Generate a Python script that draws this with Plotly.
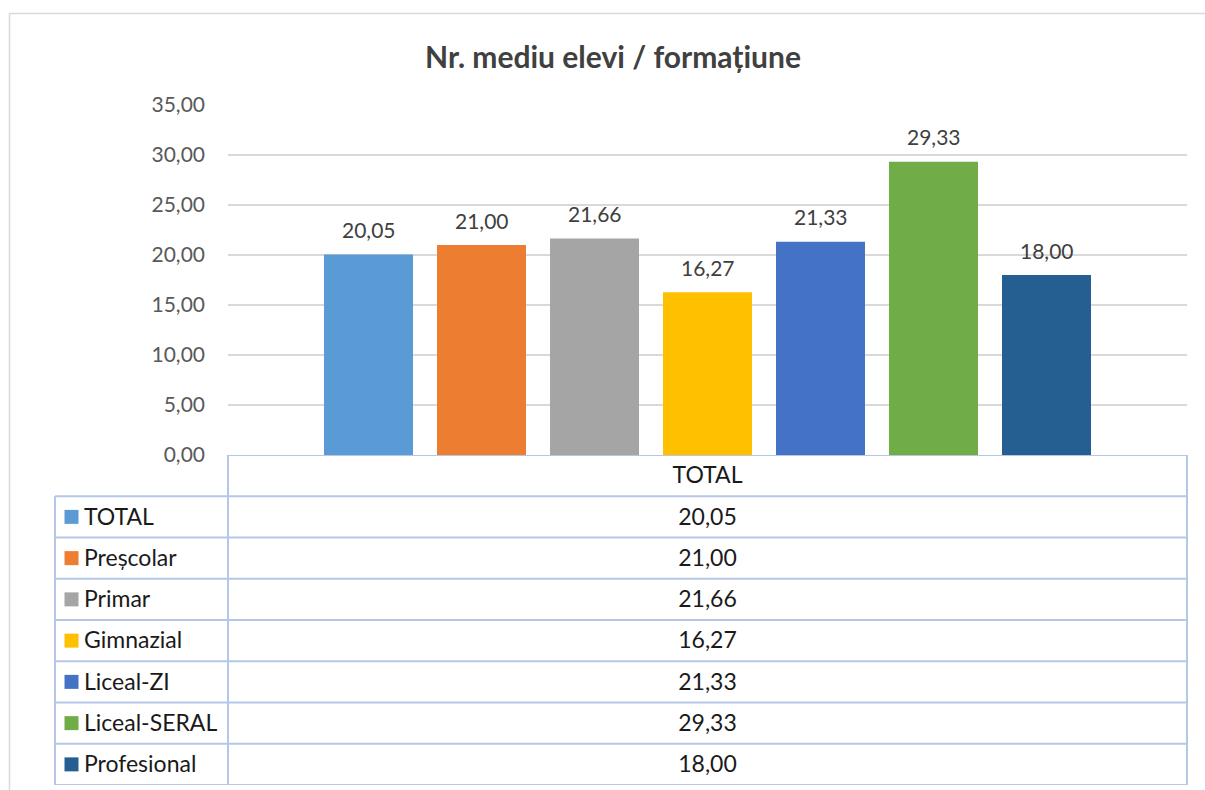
import plotly.graph_objects as go

# ---------------- data ----------------
title_text = "Nr. mediu elevi / formațiune"
category = "TOTAL"
series = ["TOTAL", "Preșcolar", "Primar", "Gimnazial", "Liceal-ZI", "Liceal-SERAL", "Profesional"]
values = [20.05, 21.00, 21.66, 16.27, 21.33, 29.33, 18.00]
colors = ["#5B9BD5", "#ED7D31", "#A5A5A5", "#FFC000", "#4472C4", "#70AD47", "#255E91"]
y_ticks = [0, 5, 10, 15, 20, 25, 30, 35]

# ---------------- layout helpers ----------------
W, H = 1205, 790
FONT = "Lato"


def px(x):
    return x / W


def py(y):
    return 1 - y / H


def fmt(v):
    return f"{v:.2f}".replace(".", ",")


plot_l, plot_r, plot_t, plot_b = 228, 1187, 105, 455
tab_l, tab_split, tab_r, tab_b = 55, 228, 1187, 785
step_px = 113.0
n = len(series)
idx = list(range(n))
mid = (n - 1) / 2
half_units = (plot_r - plot_l) / step_px / 2

fig = go.Figure()

# bars
fig.add_trace(go.Bar(
    x=idx, y=values, marker=dict(color=colors, line=dict(width=0)),
    width=89 / step_px, showlegend=False,
    customdata=series, hovertemplate="%{customdata}: %{y:.2f}<extra></extra>",
))

# data labels
annotations = []
for i, v in zip(idx, values):
    annotations.append(dict(
        x=i, y=v, xref="x", yref="y", text=fmt(v), showarrow=False,
        yanchor="middle", yshift=25,
        font=dict(family=FONT, size=21, color="#404040"),
    ))

# ---------------- data table ----------------
rows = n + 1
span = tab_r - tab_l
val_x = ((plot_l + plot_r) / 2 - tab_l) / span
key_x = (71.5 - tab_l) / span
lbl_x = (84 - tab_l) / span
text_nudge = 0.05  # centre text optically within each row
table_font = dict(family=FONT, size=23, color="#1A1A1A")

fig.add_trace(go.Scatter(
    x=[val_x], y=[0.5 + text_nudge], mode="text", text=[category], textfont=table_font,
    xaxis="x2", yaxis="y2", showlegend=False, hoverinfo="skip", cliponaxis=False,
))
fig.add_trace(go.Scatter(
    x=[val_x] * n, y=[i + 1.5 + text_nudge for i in idx], mode="text",
    text=[fmt(v) for v in values], textfont=table_font,
    xaxis="x2", yaxis="y2", showlegend=False, hoverinfo="skip", cliponaxis=False,
))
fig.add_trace(go.Scatter(
    x=[key_x] * n, y=[i + 1.5 for i in idx], mode="markers",
    marker=dict(symbol="square", size=14, color=colors, line=dict(width=0)),
    xaxis="x2", yaxis="y2", showlegend=False, hoverinfo="skip", cliponaxis=False,
))
fig.add_trace(go.Scatter(
    x=[lbl_x] * n, y=[i + 1.5 + text_nudge for i in idx], mode="text",
    text=series, textposition="middle right", textfont=table_font,
    xaxis="x2", yaxis="y2", showlegend=False, hoverinfo="skip", cliponaxis=False,
))

line_col = "#B4C7E7"
shapes = []
shapes.append(dict(type="line", xref="paper", yref="y2", x0=px(tab_split), x1=px(tab_r),
                   y0=0, y1=0, line=dict(color=line_col, width=2), layer="above"))
for r in range(1, rows + 1):
    shapes.append(dict(type="line", xref="paper", yref="y2", x0=px(tab_l), x1=px(tab_r),
                       y0=r, y1=r, line=dict(color=line_col, width=2), layer="above"))
shapes.append(dict(type="line", xref="paper", yref="y2", x0=px(tab_l), x1=px(tab_l),
                   y0=1, y1=rows, line=dict(color=line_col, width=2), layer="above"))
for xv in (tab_split, tab_r):
    shapes.append(dict(type="line", xref="paper", yref="y2", x0=px(xv), x1=px(xv),
                       y0=0, y1=rows, line=dict(color=line_col, width=2), layer="above"))

# outer chart frame
frame_col = "#D9D9D9"
shapes.append(dict(type="line", xref="paper", yref="paper", x0=px(9.5), x1=1.0,
                   y0=py(13.5), y1=py(13.5), line=dict(color=frame_col, width=1.5)))
shapes.append(dict(type="line", xref="paper", yref="paper", x0=px(9.5), x1=px(9.5),
                   y0=py(13.5), y1=0.0, line=dict(color=frame_col, width=1.5)))

fig.update_layout(
    width=W, height=H,
    margin=dict(l=0, r=0, t=0, b=0, autoexpand=False),
    paper_bgcolor="white", plot_bgcolor="white",
    separators=",.",
    font=dict(family=FONT),
    title=dict(text=f"<b>{title_text}</b>", x=px(613), y=py(57), xref="paper", yref="paper",
               xanchor="center", yanchor="middle", automargin=False,
               font=dict(family=FONT, size=30, color="#404040")),
    xaxis=dict(domain=[px(plot_l), px(plot_r)], range=[mid - half_units, mid + half_units],
               showgrid=False, zeroline=False, showticklabels=False, showline=False,
               fixedrange=True, automargin=False),
    yaxis=dict(domain=[py(plot_b), py(plot_t)], range=[0, 35], tickvals=y_ticks, tickformat=".2f",
               showgrid=True, gridcolor="#D9D9D9", gridwidth=1.5, zeroline=False, showline=False,
               ticks="", ticklabelstandoff=22, automargin=False,
               tickfont=dict(family=FONT, size=21, color="#595959"), fixedrange=True),
    xaxis2=dict(domain=[px(tab_l), px(tab_r)], range=[0, 1], anchor="y2", visible=False,
                fixedrange=True, automargin=False),
    yaxis2=dict(domain=[py(tab_b), py(plot_b)], range=[rows, 0], anchor="x2", visible=False,
                fixedrange=True, automargin=False),
    annotations=annotations,
    shapes=shapes,
)

fig.write_html("out.html", config={"displayModeBar": False},
               post_script="document.body.style.margin='0';document.body.style.overflow='hidden';")
